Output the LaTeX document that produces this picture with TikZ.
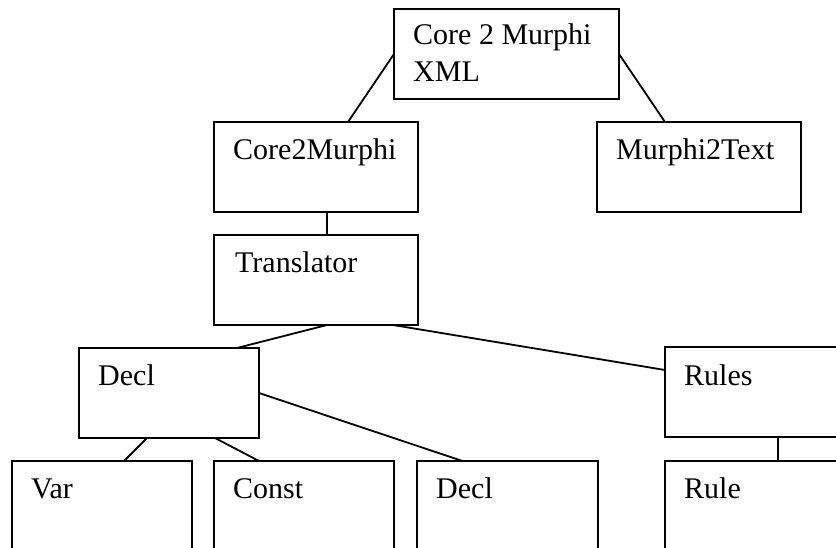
\documentclass[tikz,border=0pt]{standalone}
\usepackage{fontspec}
\setmainfont{Liberation Serif}
\begin{document}
\begin{tikzpicture}[x=1pt,y=-1pt,
  box/.style={draw, line width=1.8pt, rectangle, minimum width=#1, minimum height=90pt,
    anchor=north west, inner sep=0pt, outer sep=0pt},
  lbl/.style={anchor=base west, inner sep=0pt, font=\fontsize{30}{37}\selectfont, align=left},
  con/.style={line width=1.8pt}]
\useasboundingbox (0,0) rectangle (836,548);
\clip (0,0) rectangle (836,548);
% boxes
\node[box=225] (core) at (394,9) {};
\node[box=204] (c2m) at (214,122) {};
\node[box=204] (m2t) at (597,122) {};
\node[box=204] (trans) at (214,235) {};
\node[box=180] (decl) at (79,348) {};
\node[box=226] (rules) at (665,347) {};
\node[box=180] (var) at (12,461) {};
\node[box=180] (const) at (214,461) {};
\node[box=181] (decl2) at (417,461) {};
\node[box=226] (rule) at (665,461) {};
% labels
\node[lbl] (coreT) at ([shift={(19,73)}]core.north west) {Core 2 Murphi\\XML};
\node[lbl] (c2mT) at ([shift={(19,38)}]c2m.north west) {Core2Murphi};
\node[lbl] (m2tT) at ([shift={(19,38)}]m2t.north west) {Murphi2Text};
\node[lbl] (transT) at ([shift={(21,38)}]trans.north west) {Translator};
\node[lbl] (declT) at ([shift={(19,37)}]decl.north west) {Decl};
\node[lbl] (rulesT) at ([shift={(19,38)}]rules.north west) {Rules};
\node[lbl] (varT) at ([shift={(19,37)}]var.north west) {Var};
\node[lbl] (constT) at ([shift={(19,37)}]const.north west) {Const};
\node[lbl] (decl2T) at ([shift={(19,37)}]decl2.north west) {Decl};
\node[lbl] (ruleT) at ([shift={(19,37)}]rule.north west) {Rule};
% connectors
\draw[con] (core.west) -- ([xshift=32]c2m.north);
\draw[con] (core.east) -- ([xshift=-34]m2t.north);
\draw[con] ([xshift=11]c2m.south) -- ([xshift=11]trans.north);
\draw[con] ([xshift=11]trans.south) -- ([xshift=68]decl.north);
\draw[con] ([xshift=77]trans.south) -- ([yshift=22]rules.west);
\draw[con] ([xshift=-22]decl.south) -- ([xshift=22]var.north);
\draw[con] ([xshift=46]decl.south) -- ([xshift=-45]const.north);
\draw[con] (decl.east) -- ([xshift=-45]decl2.north);
\draw[con] (rules.south) -- (rule.north);
\end{tikzpicture}
\end{document}
